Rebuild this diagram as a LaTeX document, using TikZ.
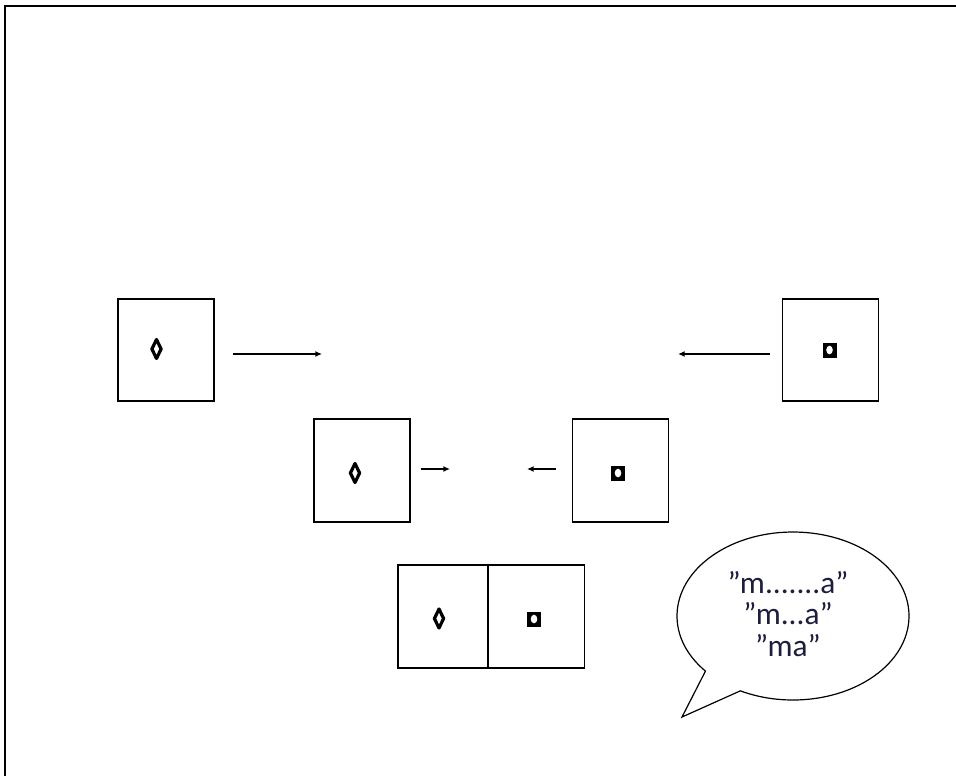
\documentclass[tikz,border=0pt]{standalone}
\usepackage{fontspec}
\newfontfamily\bubblefont{Carlito}
\usetikzlibrary{arrows.meta,calc}
\definecolor{inkblue}{RGB}{28,30,62}
\tikzset{
  frame/.style={line width=2.2pt, line cap=rect},
  panel/.style={draw, line width=1.3pt, minimum width=72pt, minimum height=77pt, inner sep=0pt},
  move/.style={line width=1pt, -{Latex[length=5pt,width=4.5pt]}},
  bubble/.style={draw, line width=0.9pt, fill=white},
}
% lozenge mark: thick outlined diamond with a narrow light slot
\newcommand{\lozmark}[1]{%
  \draw[line width=2.4pt, line join=round] ($(#1)+(0,-9.5)$) -- ($(#1)+(4.6,0)$) -- ($(#1)+(0,9.5)$) -- ($(#1)+(-4.6,0)$) -- cycle;
}
% block mark: small black square with a round hole
\newcommand{\blockmark}[1]{%
  \fill ($(#1)+(-7,-7.5)$) rectangle ($(#1)+(7,7.5)$);
  \fill[white] (#1) ellipse[x radius=3.3, y radius=4.3];
}
\begin{document}
\begin{tikzpicture}[x=0.75pt, y=-0.75pt]
  \useasboundingbox (0,0) rectangle (956,775);
  % page frame (top and left edges)
  \draw[frame] (5,780) -- (5,6) -- (960,6);

  % top row
  \node[panel] (pa) at (166,350) {};
  \node[panel] (pb) at (830.5,350) {};
  % middle row
  \node[panel] (pc) at (362,470.5) {};
  \node[panel] (pd) at (620.5,470.5) {};
  % joined pair sharing one edge
  \node[panel, minimum width=67.5pt] (pe) at (443,616.5) {};
  \node[panel] (pf) at (536.5,616.5) {};

  % marks inside the panels
  \lozmark{156.5,349}
  \blockmark{829.5,350}
  \lozmark{355,473}
  \blockmark{618,473}
  \lozmark{439,618.5}
  \blockmark{534,619}

  % movement arrows
  \coordinate (ta) at (322,354);
  \coordinate (tb) at (678,354);
  \coordinate (tc) at (450,469);
  \coordinate (td) at (527,469);
  \draw[move] ($(pa.east)+(18,4)$) -- (ta);
  \draw[move] ($(pb.west)+(-12,4)$) -- (tb);
  \draw[move] ($(pc.east)+(10,-1.5)$) -- (tc);
  \draw[move] ($(pd.west)+(-16,-1.5)$) -- (td);

  % speech bubble with tail
  \coordinate (bc) at (793,616);
  \draw[bubble, line join=miter]
    ($(bc)+(139:116 and 84)$)
    arc[start angle=139, end angle=477, x radius=116, y radius=84]
    -- (682,717) -- cycle;
  \node[text=inkblue, align=center, font=\bubblefont\fontsize{23.5}{23.5}\selectfont]
    (say) at (788,614) {”m.......a”\\”m...a”\\”ma”};
\end{tikzpicture}
\end{document}
